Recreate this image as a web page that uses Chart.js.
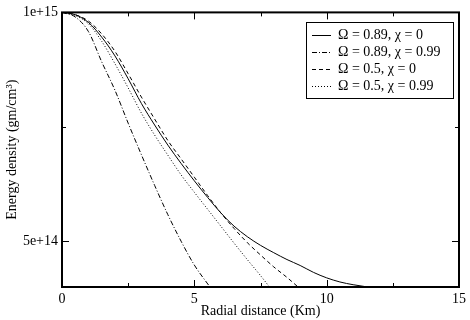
<!DOCTYPE html>
<html>
<head>
<meta charset="utf-8">
<script src="https://cdn.jsdelivr.net/npm/chart.js@4"></script>
<style>
  html, body { margin: 0; padding: 0; background: #fff; }
  #wrap { width: 470px; height: 320px; }
</style>
</head>
<body>
<div id="wrap"><canvas id="chart" width="470" height="320"></canvas></div>
<script>
// radial distance (Km) and energy density (in units of 1e15 gm/cm^3)
const rSolid = [0, 0.5, 1, 1.5, 2, 2.5, 3, 3.5, 4, 4.5, 5, 5.5, 6, 6.5, 7, 7.5, 8, 8.5, 9, 9.5, 10, 10.5, 11, 11.55];
const eSolid = [1.0, 0.995, 0.978, 0.946, 0.905, 0.855, 0.801, 0.754, 0.71, 0.67, 0.632, 0.596, 0.562, 0.533, 0.51, 0.491, 0.475, 0.46, 0.447, 0.432, 0.42, 0.411, 0.405, 0.400];

const rDashDot = [0, 0.5, 1, 1.5, 2, 2.5, 3, 3.5, 4, 4.5, 5, 5.59];
const eDashDot = [1.0, 0.99, 0.958, 0.892, 0.83, 0.758, 0.689, 0.622, 0.558, 0.5, 0.448, 0.400];

const rDashed = [0, 0.5, 1, 1.5, 2, 2.5, 3, 3.5, 4, 4.5, 5, 5.5, 6, 6.5, 7, 7.5, 8, 8.5, 8.92];
const eDashed = [1.0, 0.995, 0.981, 0.953, 0.915, 0.866, 0.815, 0.767, 0.72, 0.68, 0.64, 0.6, 0.562, 0.528, 0.497, 0.47, 0.444, 0.421, 0.400];

const rDotted = [0, 0.5, 1, 1.5, 2, 2.5, 3, 3.5, 4, 4.5, 5, 5.5, 6, 6.5, 7, 7.5, 7.84];
const eDotted = [1.0, 0.993, 0.975, 0.937, 0.888, 0.835, 0.78, 0.732, 0.688, 0.645, 0.607, 0.57, 0.533, 0.496, 0.46, 0.425, 0.400];

const seriesLabels = ['\u03A9 = 0.89, \u03C7 = 0', '\u03A9 = 0.89, \u03C7 = 0.99', '\u03A9 = 0.5, \u03C7 = 0', '\u03A9 = 0.5, \u03C7 = 0.99'];
const xTicks = [0, 5, 10, 15];
const xMinorTicks = [2.5, 7.5, 12.5];
const yTicks = [5e14, 1e15];
const yMinorTicks = [7.5e14];
const UNIT = 1e15;

function pts(rs, es) {
  return rs.map((r, i) => ({ x: r, y: es[i] * UNIT }));
}

const serif = '"Liberation Serif", "DejaVu Serif", serif';

// ticks drawn inward on all four sides + frame
const frameTicks = {
  id: 'frameTicks',
  afterDatasetsDraw(chart) {
    const { ctx, chartArea: a, scales } = chart;
    const xs = scales.x, ys = scales.y;
    ctx.save();
    ctx.strokeStyle = '#000';
    ctx.lineWidth = 1;
    ctx.beginPath();
    const tick = (v, len, isX) => {
      if (isX) {
        const px = Math.round(xs.getPixelForValue(v)) + 0.5;
        ctx.moveTo(px, a.bottom); ctx.lineTo(px, a.bottom - len);
        ctx.moveTo(px, a.top); ctx.lineTo(px, a.top + len);
      } else {
        const py = Math.round(ys.getPixelForValue(v)) + 0.5;
        ctx.moveTo(a.left, py); ctx.lineTo(a.left + len, py);
        ctx.moveTo(a.right, py); ctx.lineTo(a.right - len, py);
      }
    };
    xTicks.forEach(v => tick(v, 7, true));
    xMinorTicks.forEach(v => tick(v, 4, true));
    yTicks.forEach(v => tick(v, 7, false));
    yMinorTicks.forEach(v => tick(v, 4, false));
    ctx.stroke();
    ctx.lineWidth = 2;
    ctx.strokeRect(a.left, a.top, a.right - a.left, a.bottom - a.top);
    ctx.restore();
  }
};

// boxed legend in the upper right
const boxLegend = {
  id: 'boxLegend',
  afterDraw(chart) {
    const { ctx } = chart;
    const x0 = 306, y0 = 22, w = 147, h = 76, row = 17;
    ctx.save();
    ctx.fillStyle = '#fff';
    ctx.fillRect(x0, y0, w, h);
    ctx.strokeStyle = '#000';
    ctx.lineWidth = 1;
    ctx.strokeRect(x0 + 0.5, y0 + 0.5, w, h);
    ctx.font = '14px ' + serif;
    ctx.textBaseline = 'middle';
    ctx.fillStyle = '#000';
    chart.data.datasets.forEach((ds, i) => {
      const cy = Math.round(y0 + 13 + i * row) + 0.5;
      ctx.beginPath();
      ctx.setLineDash(ds.borderDash || []);
      ctx.moveTo(x0 + 6, cy);
      ctx.lineTo(x0 + 25, cy);
      ctx.stroke();
      ctx.setLineDash([]);
      ctx.fillText(ds.label, x0 + 32, cy);
    });
    ctx.restore();
  }
};

const ctx = document.getElementById('chart').getContext('2d');

const config = {
  type: 'line',
  data: {
    datasets: [{
      label: seriesLabels[0],
      data: pts(rSolid, eSolid),
      borderDash: []
    }, {
      label: seriesLabels[1],
      data: pts(rDashDot, eDashDot),
      borderDash: [5, 2, 1, 2]
    }, {
      label: seriesLabels[2],
      data: pts(rDashed, eDashed),
      borderDash: [4, 3]
    }, {
      label: seriesLabels[3],
      data: pts(rDotted, eDotted),
      borderDash: [1, 2]
    }]
  },
  options: {
    responsive: false,
    animation: false,
    layout: { padding: { top: 7, right: 8, left: 0, bottom: 0 } },
    elements: {
      line: { borderColor: '#000', borderWidth: 1, tension: 0, cubicInterpolationMode: 'monotone', fill: false },
      point: { radius: 0 }
    },
    plugins: {
      legend: { display: false },
      tooltip: { enabled: false }
    },
    scales: {
      x: {
        type: 'linear',
        min: 0,
        max: 15,
        afterFit(s) { s.height = 33; },
        afterBuildTicks(s) { s.ticks = xTicks.map(v => ({ value: v })); },
        grid: { display: false, drawTicks: false },
        border: { display: false },
        ticks: { color: '#000', padding: 4, font: { family: serif, size: 14 } },
        title: { display: true, text: 'Radial distance (Km)', color: '#000', padding: { top: 2, bottom: 0 }, font: { family: serif, size: 14 } }
      },
      y: {
        type: 'linear',
        min: 4e14,
        max: 1e15,
        afterFit(s) { s.width = 62; },
        afterBuildTicks(s) { s.ticks = yTicks.map(v => ({ value: v })); },
        grid: { display: false, drawTicks: false },
        border: { display: false },
        ticks: {
          color: '#000', padding: 4, font: { family: serif, size: 14 },
          callback: v => v === 1e15 ? '1e+15' : '5e+14'
        },
        title: { display: true, text: 'Energy density (gm/cm\u00B3)', color: '#000', padding: { top: 4, bottom: 0 }, font: { family: serif, size: 14 } }
      }
    }
  },
  plugins: [frameTicks, boxLegend]
};

new Chart(ctx, config);
</script>
</body>
</html>
